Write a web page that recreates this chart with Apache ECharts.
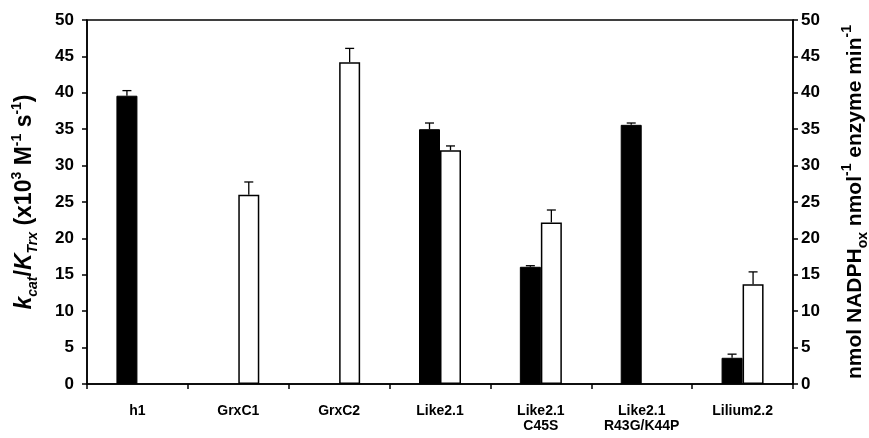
<!DOCTYPE html>
<html><head><meta charset="utf-8">
<script src="https://cdn.jsdelivr.net/npm/echarts@6/dist/echarts.min.js"></script>
<style>html,body{margin:0;padding:0;background:#fff}#c{width:869px;height:438px}</style>
</head><body><div id="c"></div>
<script>
const categories = ['h1','GrxC1','GrxC2','Like2.1','Like2.1\nC45S','Like2.1\nR43G/K44P','Lilium2.2'];
const kcatValues = [39.6, null, null, 35.0, 16.1, 35.6, 3.6];
const kcatErrors = [0.7, null, null, 0.85, 0.15, 0.25, 0.5];
const nadphValues = [null, 26.0, 44.2, 32.1, 22.2, null, 13.7];
const nadphErrors = [null, 1.75, 1.9, 0.6, 1.7, null, 1.7];

const FONT = '"Liberation Sans", Arial, sans-serif';
const BW = 21;

function errSeries(vals, errs, side, yIdx) {
  const data = vals.map((v, i) => v == null ? null : [i, v, v + errs[i]]).filter(d => d);
  return {
    type: 'custom', yAxisIndex: yIdx, z: 5,
    data: data,
    renderItem: function (params, api) {
      const i = api.value(0);
      const base = api.coord([i, api.value(1)]);
      const top = api.coord([i, api.value(2)]);
      const x = base[0] + side * BW / 2;
      const cap = 4.5;
      return {
        type: 'group',
        children: [
          { type: 'line', shape: { x1: x, y1: base[1], x2: x, y2: top[1] }, style: { stroke: '#000', lineWidth: 1.3 } },
          { type: 'line', shape: { x1: x - cap, y1: top[1], x2: x + cap, y2: top[1] }, style: { stroke: '#000', lineWidth: 1.3 } }
        ]
      };
    }
  };
}

function richSet(size) {
  const base = { fontWeight: 'bold', fontFamily: FONT, color: '#000', lineHeight: 30 };
  return {
    it: Object.assign({}, base, { fontSize: size, fontStyle: 'italic', verticalAlign: 'middle' }),
    n: Object.assign({}, base, { fontSize: size, verticalAlign: 'middle' }),
    sub: Object.assign({}, base, { fontSize: 14, verticalAlign: 'bottom', lineHeight: 22 }),
    subi: Object.assign({}, base, { fontSize: 14, fontStyle: 'italic', verticalAlign: 'bottom', lineHeight: 22 }),
    sup: Object.assign({}, base, { fontSize: 14, verticalAlign: 'top', lineHeight: 26 })
  };
}

const chart = echarts.init(document.getElementById('c'));
chart.setOption({
  animation: false,
  backgroundColor: '#fff',
  textStyle: { fontFamily: FONT },
  grid: { left: 87, right: 76, top: 20, bottom: 54, containLabel: false, outerBoundsMode: 'none',
    show: true, borderColor: '#000', borderWidth: 1.5, backgroundColor: 'transparent' },
  xAxis: {
    type: 'category', data: categories,
    axisLine: { lineStyle: { color: '#000', width: 1.5 } },
    axisTick: { show: true, length: 5, lineStyle: { color: '#000', width: 1.5 } },
    axisLabel: { color: '#000', fontWeight: 'bold', fontSize: 14, fontFamily: FONT, margin: 20, lineHeight: 15, interval: 0 }
  },
  yAxis: [
    {
      type: 'value', min: 0, max: 50, interval: 5, position: 'left',
      axisLine: { show: true, lineStyle: { color: '#000', width: 1.5 } },
      axisTick: { show: true, length: 5, lineStyle: { color: '#000', width: 1.5 } },
      splitLine: { show: false },
      axisLabel: { color: '#000', fontWeight: 'bold', fontSize: 17, fontFamily: FONT, margin: 13 },
      name: '{it|k}{subi|cat}{n|/}{it|K}{subi|Trx}{n| (x10}{sup|3}{n| M}{sup|-1}{n| s}{sup|-1}{n|)}',
      nameLocation: 'middle', nameRotate: 90, nameGap: 47, nameMoveOverlap: false,
      nameTextStyle: { color: '#000', fontFamily: FONT, rich: richSet(23) }
    },
    {
      type: 'value', min: 0, max: 50, interval: 5, position: 'right',
      axisLine: { show: true, lineStyle: { color: '#000', width: 1.5 } },
      axisTick: { show: true, length: 5, lineStyle: { color: '#000', width: 1.5 } },
      splitLine: { show: false },
      axisLabel: { color: '#000', fontWeight: 'bold', fontSize: 17, fontFamily: FONT, margin: 8 },
      name: '{n|nmol NADPH}{sub|ox}{n| nmol}{sup|-1}{n| enzyme min}{sup|-1}',
      nameLocation: 'middle', nameRotate: 90, nameGap: 47, nameMoveOverlap: false,
      nameTextStyle: { color: '#000', fontFamily: FONT, rich: richSet(21) }
    }
  ],
  series: [
    {
      type: 'bar', yAxisIndex: 0, data: kcatValues, barWidth: BW, barGap: '0%',
      itemStyle: { color: '#000', borderColor: '#000', borderWidth: 1 }
    },
    {
      type: 'bar', yAxisIndex: 1, data: nadphValues, barWidth: BW, barGap: '0%',
      itemStyle: { color: '#fff', borderColor: '#000', borderWidth: 1.5 }
    },
    errSeries(kcatValues, kcatErrors, -1, 0),
    errSeries(nadphValues, nadphErrors, 1, 1)
  ]
});
</script>
</body></html>
